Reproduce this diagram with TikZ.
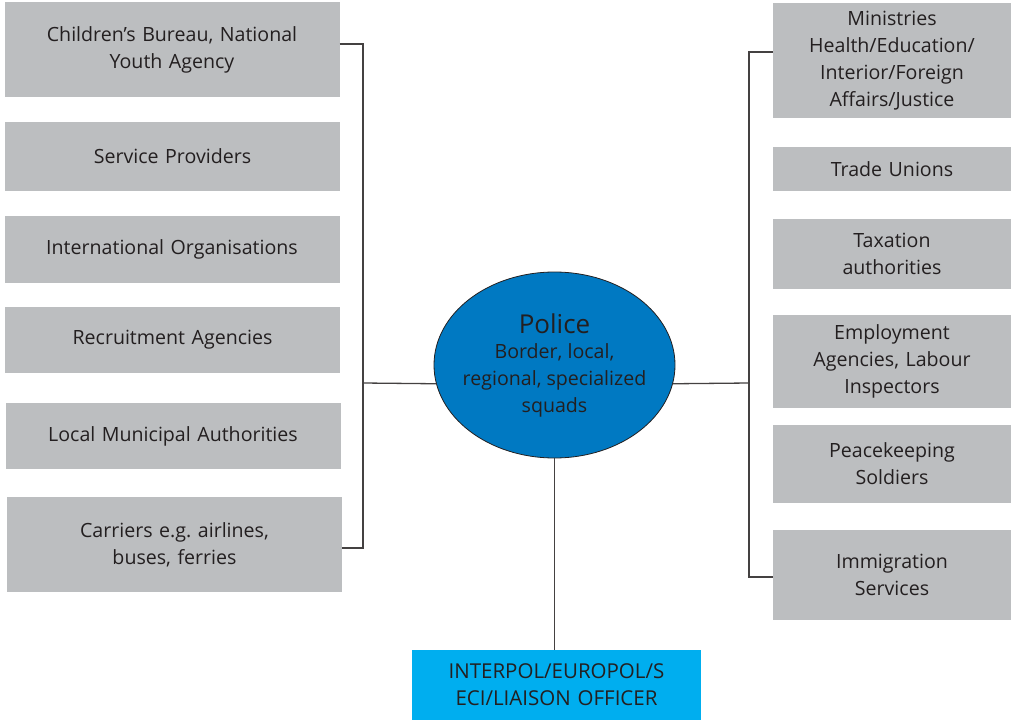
\documentclass[tikz,border=0pt]{standalone}
\usepackage{fontspec}
\setmainfont{Open Sans}
\usepackage{tikz}
\usetikzlibrary{shapes.geometric}

\definecolor{cinza}{HTML}{BCBEC0}
\definecolor{azulpol}{HTML}{0079C2}
\definecolor{ciano}{HTML}{00AEEF}
\definecolor{texto}{HTML}{231F20}

\tikzset{
  caixa/.style={fill=cinza, text=texto, align=center, inner sep=2pt,
    font=\fontsize{19.6}{27}\selectfont},
  esq/.style={caixa, minimum width=335pt, text width=325pt},
  dir/.style={caixa, minimum width=238pt, text width=232pt},
  linha/.style={draw=texto!85, line width=1.3pt}
}

\begin{document}
\begin{tikzpicture}[x=1pt, y=-1pt]
      \useasboundingbox (0,0) rectangle (1013,720);
      % Lado esquerdo
      \node[esq, minimum height=95pt] (l1) at (172,49.5) {Children's Bureau, National\\Youth Agency};
      \node[esq, minimum height=69pt] (l2) at (172.5,156.5) {Service Providers};
      \node[esq, minimum height=67pt] (l3) at (172,249.5) {International Organisations};
      \node[esq, minimum height=66pt] (l4) at (172.5,340) {Recruitment Agencies};
      \node[esq, minimum height=66pt] (l5) at (173,436) {Local Municipal Authorities};
      \node[esq, minimum height=95pt] (l6) at (174.5,544.5) {Carriers e.g.\ airlines,\\buses, ferries};
      % Lado direito
      \node[dir, minimum height=115pt] (r1) at (892,60.5) {Ministries\\Health/Education/\\Interior/Foreign\\Affairs/Justice};
      \node[dir, minimum height=44pt] (r2) at (892,169) {Trade Unions};
      \node[dir, minimum height=70pt] (r3) at (892,254) {Taxation\\authorities};
      \node[dir, minimum height=93pt] (r4) at (892,361.5) {Employment\\Agencies, Labour\\Inspectors};
      \node[dir, minimum height=78pt] (r5) at (892,464) {Peacekeeping\\Soldiers};
      \node[dir, minimum height=90pt] (r6) at (892,575) {Immigration\\Services};
      % Policia
      \node[ellipse, draw=texto, line width=0.8pt, fill=azulpol, text=texto,
        minimum width=241pt, minimum height=186pt, inner xsep=-10pt, inner ysep=0pt,
        align=center, font=\fontsize{19.6}{27}\selectfont]
        (police) at (554.5,365)
        {\fontsize{26}{30}\selectfont Police\\[-2pt]
         \fontsize{19.6}{27}\selectfont Border, local,\\regional, specialized\\squads};
      \node[caixa, fill=ciano, minimum width=289pt, minimum height=70pt, text width=285pt,
        font=\fontsize{20.5}{27}\selectfont]
        (interpol) at (556.5,685) {INTERPOL/EUROPOL/S\\ECI/LIAISON OFFICER};

      % Ligacoes
      \coordinate (lbar) at (363,383);
      \coordinate (rbar) at (749,383);
      \draw[linha] ([yshift=5.5pt]l1.east) -| (lbar) |- ([yshift=-3.5pt]l6.east);
      \draw[linha] ([yshift=8.5pt]r1.west) -| (rbar) |- ([yshift=-2pt]r6.west);
      \draw[linha] (lbar) -- (police.189);
      \draw[linha] (rbar) -- (police.-9);
      \draw[linha] (police.south) -- (police.south |- interpol.north);
\end{tikzpicture}
\end{document}
